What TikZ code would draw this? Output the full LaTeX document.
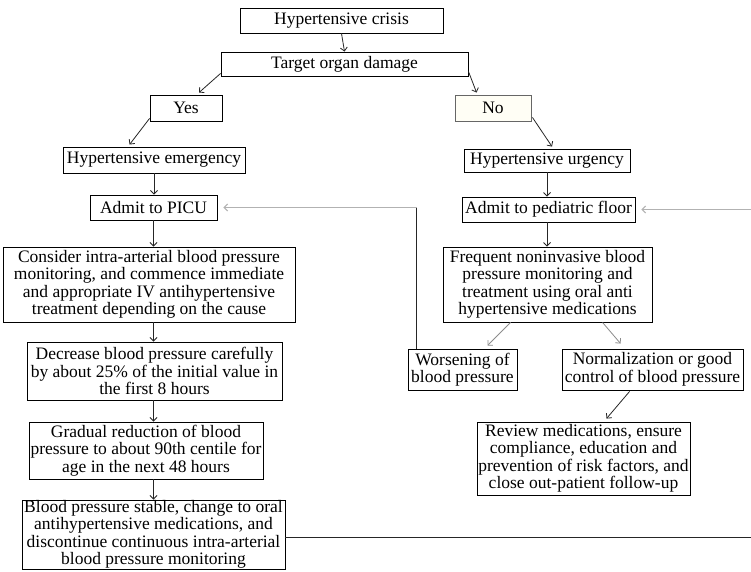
\documentclass[tikz,border=0pt]{standalone}
\usepackage{fontspec}
\setmainfont{Liberation Serif}
\usetikzlibrary{arrows.meta,calc}

\tikzset{
  box/.style={draw=black, line width=0.9pt, fill=white, inner sep=0pt, align=center,
              font=\fontsize{17.5}{17.5}\selectfont},
  flow/.style={draw=black!85, line width=0.8pt, -{Straight Barb[length=3.5pt,width=7pt]}},
  softflow/.style={flow, draw=black!45},
  link/.style={draw=black!85, line width=0.9pt},
  softlink/.style={draw=black!30, line width=1pt},
}

\begin{document}
\begin{tikzpicture}[x=1pt,y=-1pt]
  \clip (0,0) rectangle (751,571);
  \fill[white] (0,0) rectangle (751,571);

  % top of the tree
  \node[box, minimum width=203, minimum height=25] (crisis) at (341.5,20.5) {Hypertensive crisis};
  \node[box, minimum width=247, minimum height=24] (target) at (344.5,64) {Target organ damage};
  \node[box, minimum width=72, minimum height=26] (yes) at (186,108) {Yes};
  \node[box, draw=black!60, fill=yellow!4, minimum width=76, minimum height=26] (no) at (493,108) {No};

  % emergency branch
  \node[box, minimum width=182, minimum height=26] (emerg) at (154,160) {Hypertensive emergency};
  \node[box, minimum width=127, minimum height=25] (picu) at (153.5,207.5) {Admit to PICU};
  \node[box, minimum width=292, minimum height=75] (consider) at (149,284.5)
    {Consider intra-arterial blood pressure\\ monitoring, and commence immediate\\ and appropriate IV antihypertensive\\ treatment depending on the cause};
  \node[box, minimum width=255, minimum height=58] (decrease) at (154.5,371)
    {Decrease blood pressure carefully\\ by about 25\% of the initial value in\\ the first 8 hours};
  \node[box, minimum width=234, minimum height=57] (gradual) at (146,450.5)
    {Gradual reduction of blood\\ pressure to about 90th centile for\\ age in the next 48 hours};
  \node[box, minimum width=263, minimum height=69] (stable) at (153.5,534.5)
    {Blood pressure stable, change to oral\\ antihypertensive medications, and\\ discontinue continuous intra-arterial\\ blood pressure monitoring};

  % urgency branch
  \node[box, minimum width=166, minimum height=23] (urgency) at (547,160.5) {Hypertensive urgency};
  \node[box, minimum width=173, minimum height=25] (floor) at (548.5,209.5) {Admit to pediatric floor};
  \node[box, minimum width=209, minimum height=75] (frequent) at (547.5,284.5)
    {Frequent noninvasive blood\\ pressure monitoring and\\ treatment using oral anti\\ hypertensive medications};
  \node[box, minimum width=109, minimum height=41] (worse) at (462.5,369.5)
    {Worsening of\\ blood pressure};
  \node[box, minimum width=181, minimum height=41] (normal) at (652.5,369.5)
    {Normalization or good\\ control of blood pressure};
  \node[box, minimum width=213, minimum height=73] (review) at (583.5,458.5)
    {Review medications, ensure\\ compliance, education and\\ prevention of risk factors, and\\ close out-patient follow-up};

  % connectors
  \draw[flow] (crisis.south) -- (target.north);
  \draw[flow] ($(target.south west)+(0,-3)$) -- ($(yes.north)+(13,-2)$);
  \draw[flow] ($(target.south east)+(0,-5)$) -- ($(no.north west)+(22,-2)$);
  \draw[flow] ($(yes.south west)+(0,-3)$) -- ($(emerg.north west)+(67,-2)$);
  \draw[flow] ($(no.south east)+(1,-4)$) -- ($(urgency.north)+(5,-2)$);

  \draw[flow] (emerg.south) -- (emerg.south |- picu.north);
  \draw[flow] (picu.south) -- (picu.south |- consider.north);
  \draw[flow] (picu.south |- consider.south) -- (picu.south |- decrease.north);
  \draw[flow] (picu.south |- decrease.south) -- (picu.south |- gradual.north);
  \draw[flow] (picu.south |- gradual.south) -- (picu.south |- stable.north);

  \draw[flow] (urgency.south) -- (urgency.south |- floor.north);
  \draw[flow] (urgency.south |- floor.south) -- (urgency.south |- frequent.north);
  \draw[softflow] ($(frequent.south west)+(68,0)$) -- ($(worse.north)+(25,-3)$);
  \draw[softflow] ($(frequent.south west)+(160,0)$) -- ($(normal.north west)+(59,-5)$);
  \draw[flow] ($(normal.south west)+(68,1)$) -- ($(review.north)+(23,-3)$);

  % worsening: back to intensive care
  \coordinate (wk) at ($(worse.north west)+(9,0)$);
  \coordinate (wc) at (wk |- picu.east);
  \draw[link] (wk) -- (wc);
  \draw[softlink, -{Straight Barb[length=3.5pt,width=7pt]}] (wc) -- ($(picu.east)+(6,0)$);

  % stable: back to the pediatric floor, routed along the right margin
  \coordinate (edge) at (760,0);
  \coordinate (sk) at ($(stable.east)+(0,3)$);
  \coordinate (rk) at (sk -| edge);
  \coordinate (rt) at (edge |- floor.east);
  \draw[link] (sk) -- (rk) -- (rt);
  \draw[softlink, -{Straight Barb[length=3.5pt,width=7pt]}] (rt) -- ($(floor.east)+(6,0)$);
\end{tikzpicture}
\end{document}
